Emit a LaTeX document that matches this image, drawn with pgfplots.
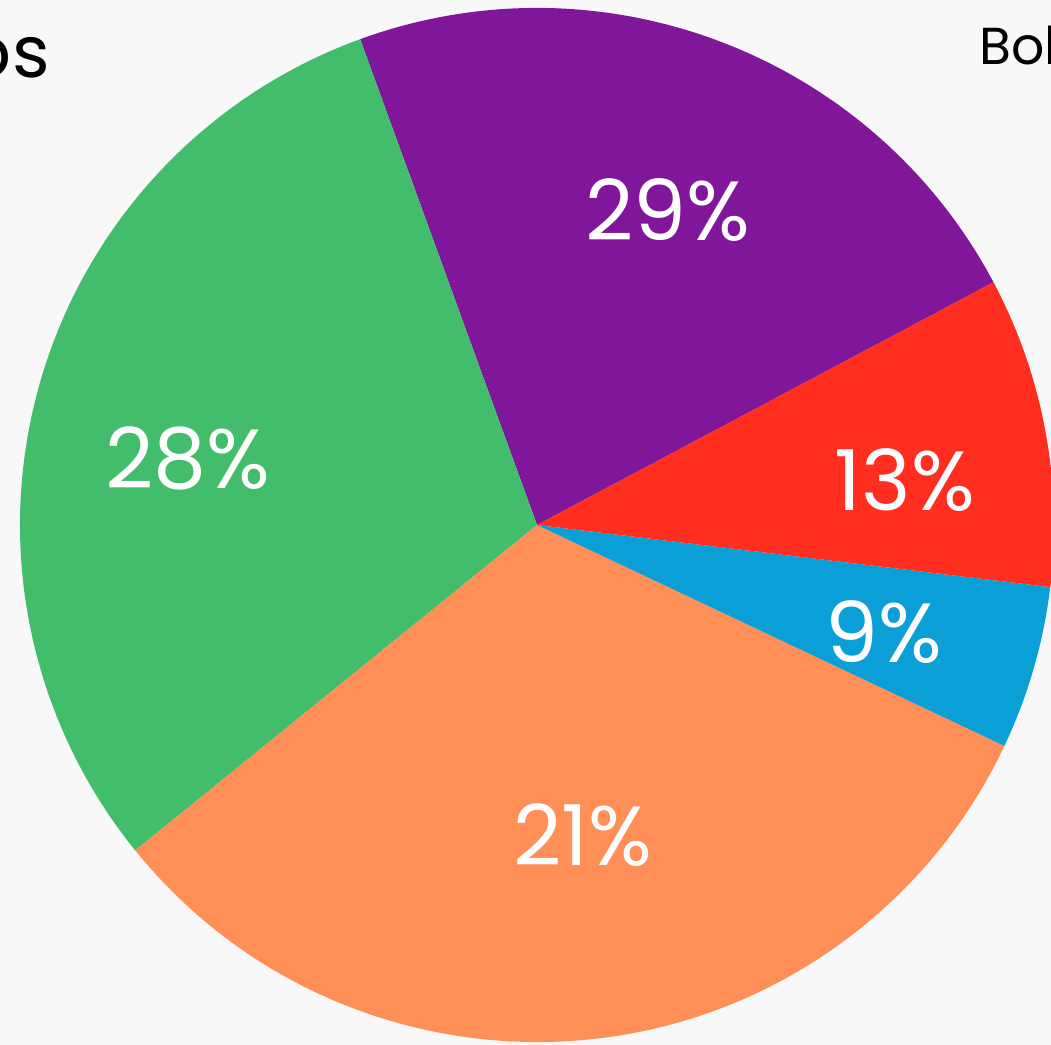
\documentclass[border=0pt]{standalone}
\usepackage{pgfplots}
\pgfplotsset{compat=1.18}
\usepackage{fontspec}
\setmainfont{Poppins}
\definecolor{bg}{HTML}{F8F8F8}
\definecolor{cpurple}{HTML}{80179A}
\definecolor{cred}{HTML}{FF2E1F}
\definecolor{cblue}{HTML}{0B9FD8}
\definecolor{corange}{HTML}{FF8F57}
\definecolor{cgreen}{HTML}{42BD6C}
\begin{document}
\begin{tikzpicture}
\begin{axis}[
  width=525.5pt, height=522.5pt, scale only axis,
  xmin=0, xmax=1051, ymin=0, ymax=1045,
  hide axis, clip=true,
]
\fill[bg] (axis cs:0,0) rectangle (axis cs:1051,1045);
% slices: start angle, end angle (degrees)
\fill[cpurple] (axis cs:537,520) -- ++(28:258.5pt) arc[start angle=28, end angle=110, radius=258.5pt] -- cycle;
\fill[cgreen] (axis cs:537,520) -- ++(110:258.5pt) arc[start angle=110, end angle=219, radius=258.5pt] -- cycle;
\fill[corange] (axis cs:537,520) -- ++(219:258.5pt) arc[start angle=219, end angle=334.7, radius=258.5pt] -- cycle;
\fill[cblue] (axis cs:537,520) -- ++(334.7:258.5pt) arc[start angle=334.7, end angle=353.1, radius=258.5pt] -- cycle;
\fill[cred] (axis cs:537,520) -- ++(353.1:258.5pt) arc[start angle=353.1, end angle=388, radius=258.5pt] -- cycle;
\begin{scope}[every node/.style={text=white, font=\fontsize{42}{42}\selectfont}]
\node at (axis cs:668,835) {29\%};
\node at (axis cs:188,587) {28\%};
\node at (axis cs:905,565) {13\%};
\node at (axis cs:884,413) {9\%};
\node at (axis cs:583,210) {21\%};
\end{scope}
\node[anchor=base east, font=\fontsize{36}{36}\selectfont, inner sep=0pt] at (axis cs:50,967) {os};
\node[anchor=base west, font=\fontsize{26}{26}\selectfont, inner sep=0pt] at (axis cs:979,980) {Bol};
\end{axis}
\pgfresetboundingbox
\useasboundingbox (current axis.south west) rectangle (current axis.north east);
\end{tikzpicture}
\end{document}
